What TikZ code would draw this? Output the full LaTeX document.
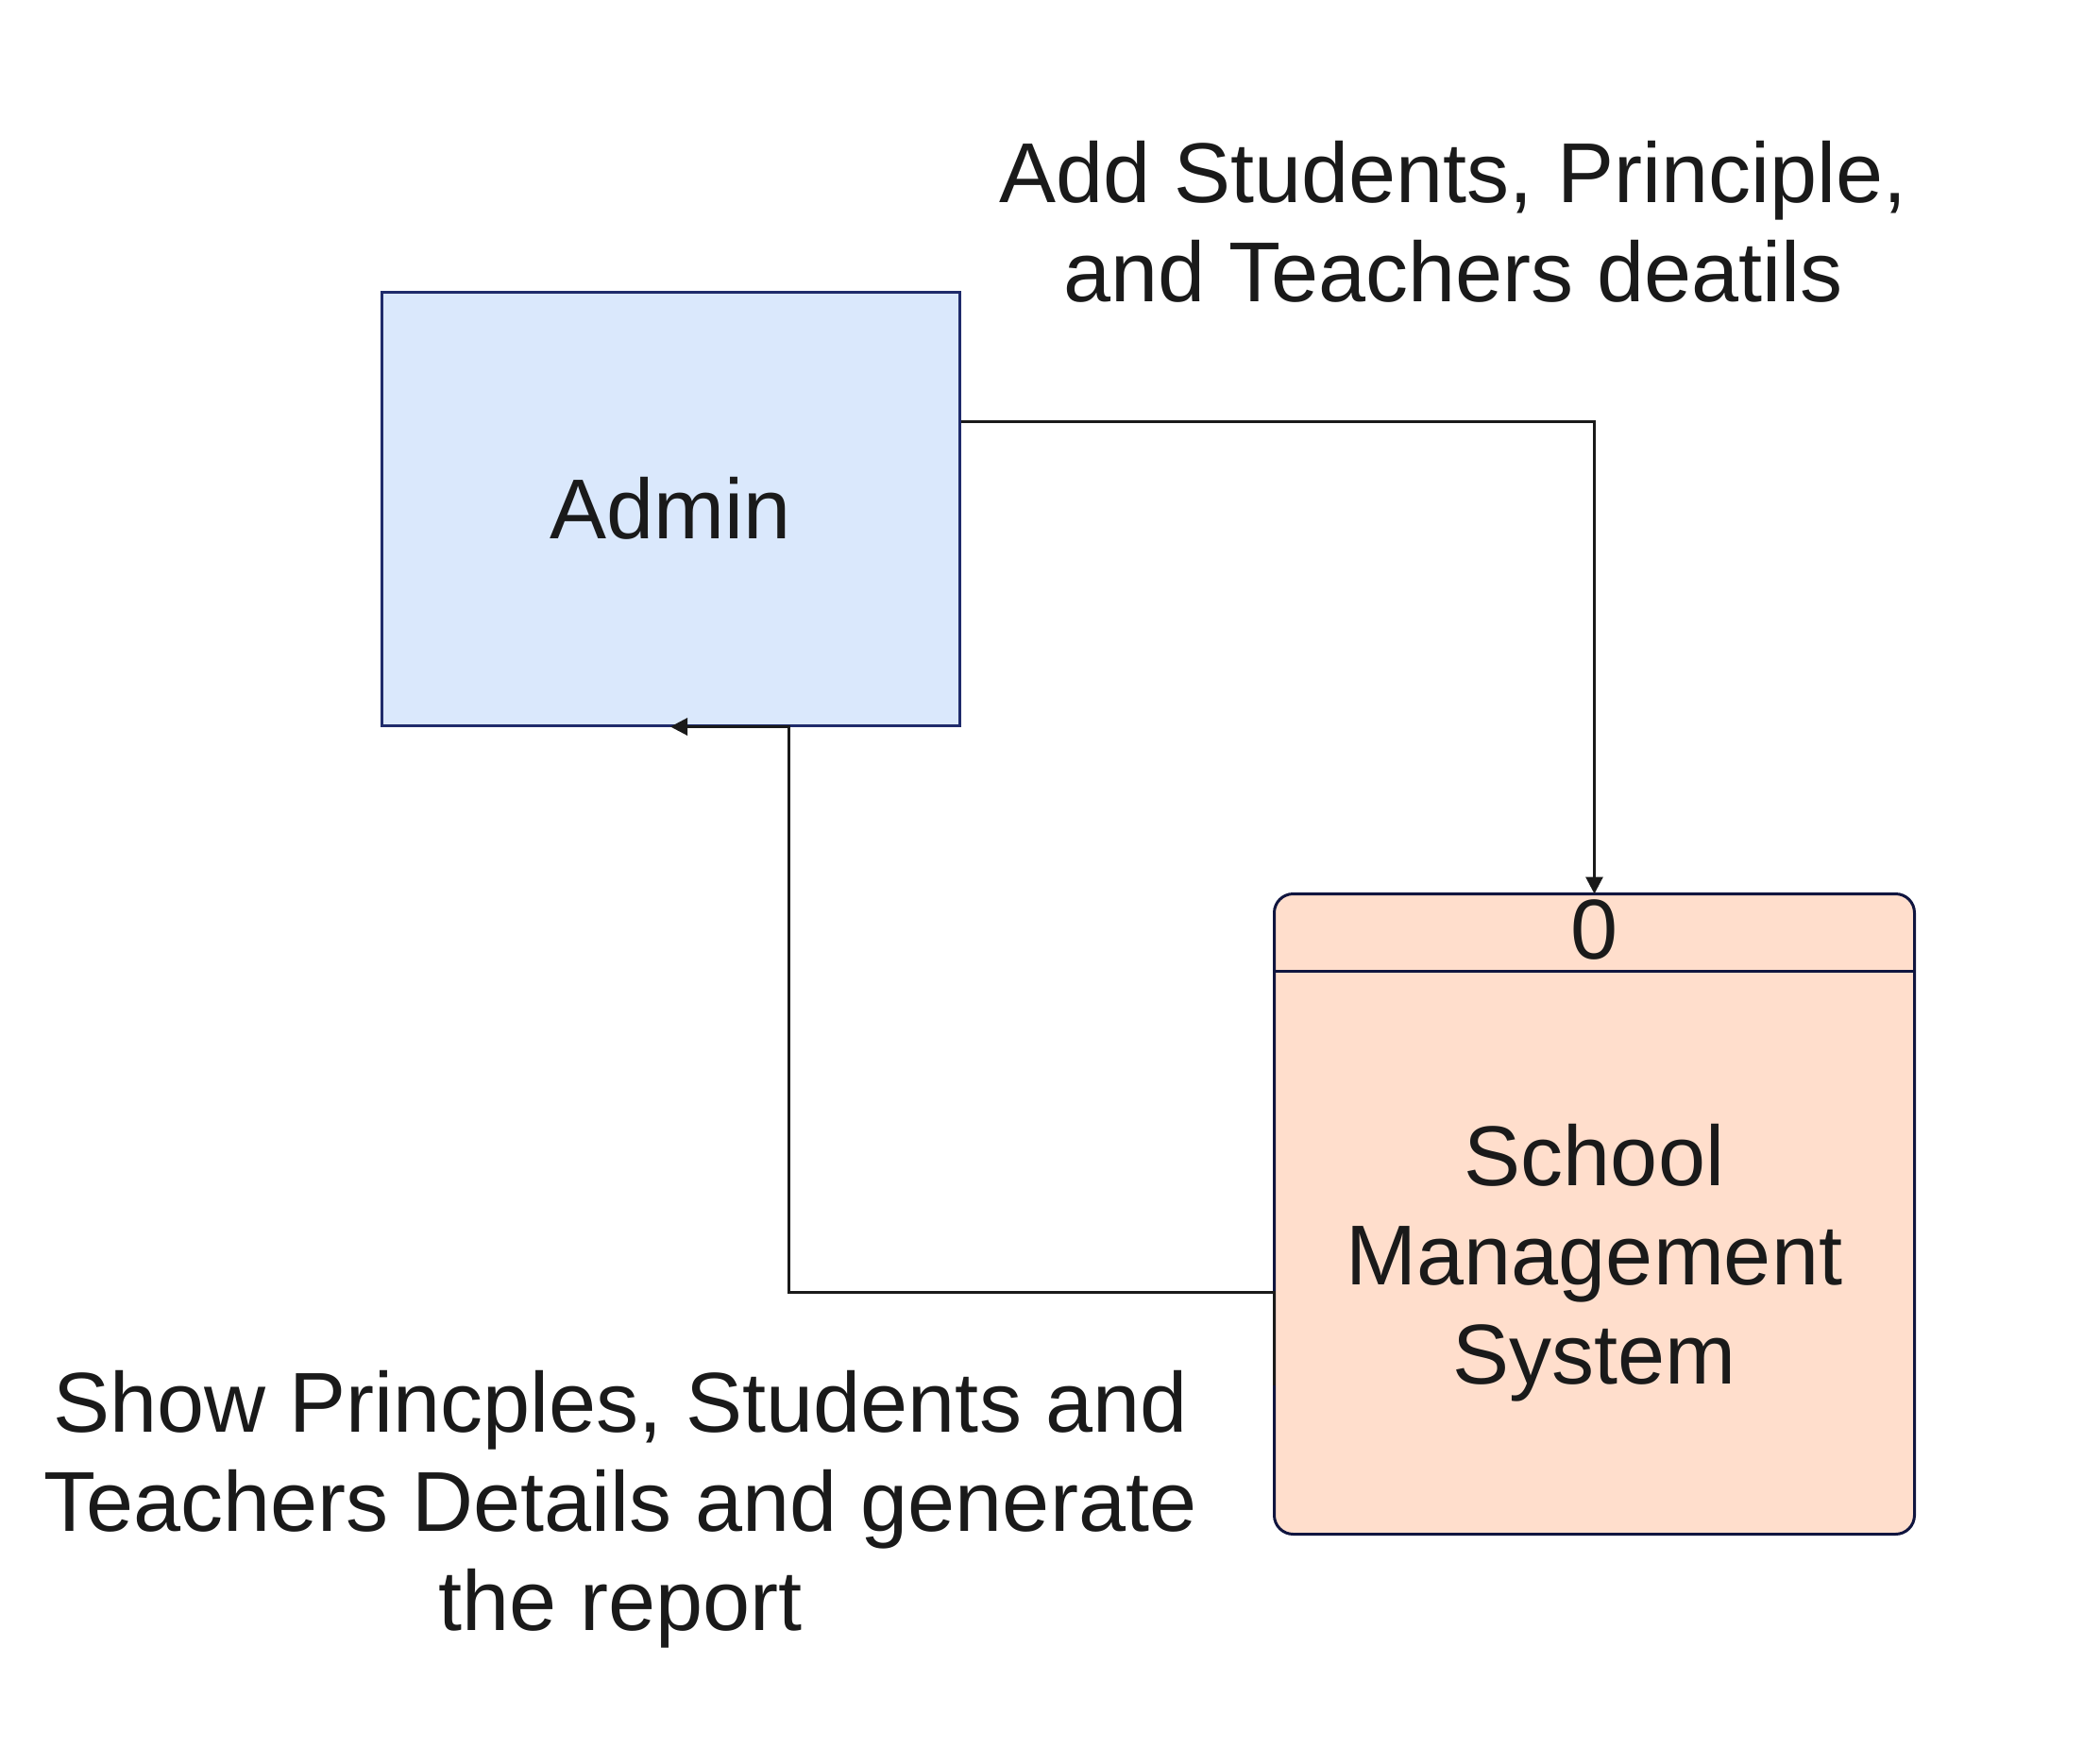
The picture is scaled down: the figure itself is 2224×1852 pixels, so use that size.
\documentclass[tikz,border=0pt]{standalone}
\usepackage{fontspec}
\setmainfont{Liberation Sans}
\usepackage{xcolor}
\usepackage{tikz}
\usetikzlibrary{positioning, arrows.meta}

\definecolor{adminfill}{HTML}{DAE8FC}
\definecolor{adminline}{HTML}{1F2B6B}
\definecolor{procfill}{HTML}{FFDECC}
\definecolor{procline}{HTML}{10153F}
\definecolor{inktext}{HTML}{1A1A1A}

\begin{document}
\begin{tikzpicture}[x=0.5pt, y=-0.5pt, line width=1.5pt, text=inktext,
		font=\fontsize{45}{52.5}\selectfont,
		flow/.style={draw=inktext, -{Triangle[length=9pt, width=9pt]}}]
		\useasboundingbox (0,0) rectangle (2224,1852);
		
		\node[draw=adminline, fill=adminfill, minimum width=306pt, minimum height=229.5pt] (admin) at (710,538.5) {Admin};
		
		\node[draw=procline, fill=procfill, rounded corners=10pt, outer sep=0pt, minimum width=339pt, minimum height=339pt, below right=88.5pt and 166pt of admin] (process) {};
		\coordinate (head) at ([yshift=-41pt]process.north);
		\draw[procline] (process.west|-head)--(process.east|-head);
		\node (proc id) at ([yshift=-19pt]process.north) {0};
		\node[align=center] (proc name) at ([yshift=-26pt]process.center) {School\\Management\\System};
		
		%---------
		\node[align=center] (add label) at (1539,235) {Add Students, Principle,\\and Teachers deatils};
		\node[align=center] (show label) at (657,1598) {Show Princples, Students and\\Teachers Details and generate\\the report};
		
		\draw[flow] ([yshift=46pt]admin.east) -| (process.north);
		\draw[flow] ([yshift=-90.5pt]process.west)--([yshift=-41.5pt]process.west) -| ([xshift=62.5pt]admin.south)--(admin.south);
	\end{tikzpicture}
\end{document}
